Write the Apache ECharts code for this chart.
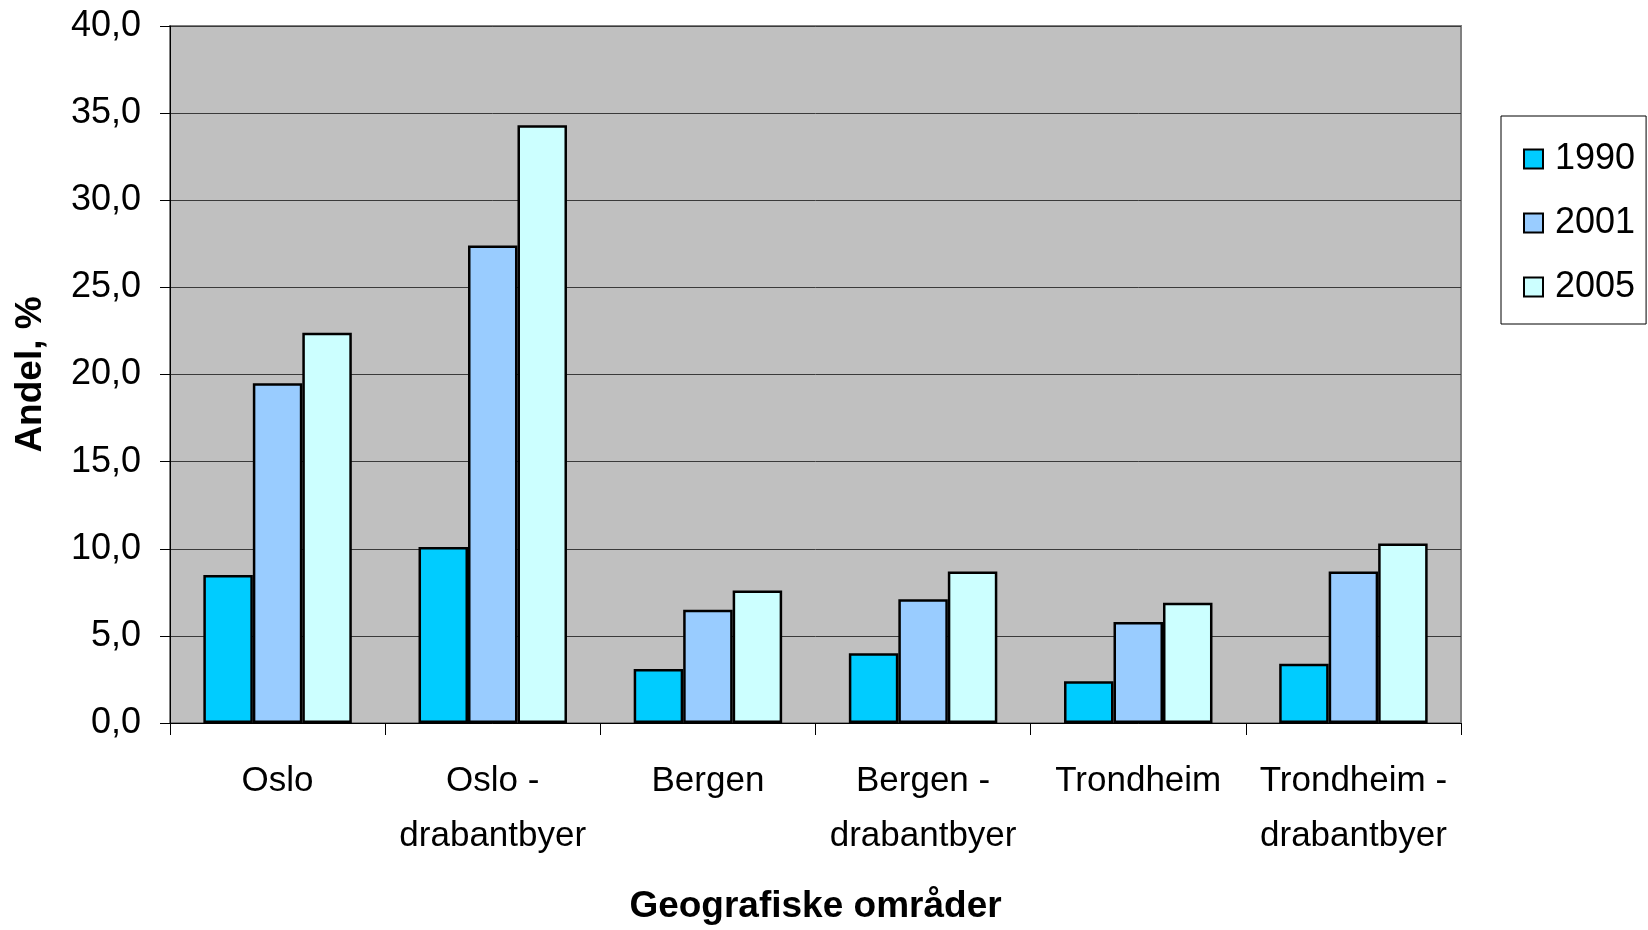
<!DOCTYPE html>
<html>
<head>
<meta charset="utf-8">
<script src="https://cdn.jsdelivr.net/npm/echarts@6/dist/echarts.min.js"></script>
<style>
  html, body { margin: 0; padding: 0; background: #fff; }
  #main { width: 1648px; height: 930px; }
</style>
</head>
<body>
<div id="main"></div>
<script>
// areas along the x axis
var omrader = ['Oslo', 'Oslo -\ndrabantbyer', 'Bergen', 'Bergen -\ndrabantbyer', 'Trondheim', 'Trondheim -\ndrabantbyer'];
// share in percent
var andel1990 = [8.5, 10.1, 3.1, 4.0, 2.4, 3.4];
var andel2001 = [19.5, 27.4, 6.5, 7.1, 5.8, 8.7];
var andel2005 = [22.4, 34.3, 7.6, 8.7, 6.9, 10.3];
var years = ['1990', '2001', '2005'];
var colors = ['#00CCFF', '#99CCFF', '#CCFFFF'];

var font = 'Liberation Sans, Arial, sans-serif';
var chart = echarts.init(document.getElementById('main'));

function bar(name, data, color) {
  return {
    name: name,
    type: 'bar',
    data: data,
    barGap: '0%',
    barCategoryGap: '31%',
    itemStyle: { color: color, borderColor: '#000', borderWidth: 2.5 }
  };
}

chart.setOption({
  animation: false,
  textStyle: { fontFamily: font },
  grid: {
    left: 170, right: 187, top: 26, bottom: 207,
    show: true,
    backgroundColor: '#C0C0C0',
    borderColor: '#808080',
    borderWidth: 2
  },
  legend: {
    orient: 'vertical',
    left: 1501,
    top: 116,
    padding: [25, 11, 19, 22],
    itemGap: 28,
    itemWidth: 19,
    itemHeight: 19,
    icon: 'rect',
    borderColor: '#000',
    borderWidth: 1,
    itemStyle: { borderColor: '#000', borderWidth: 2 },
    textStyle: { fontFamily: font, fontSize: 36, color: '#000', padding: [0, 0, 0, 7] },
    data: years
  },
  xAxis: {
    type: 'category',
    data: omrader,
    name: 'Geografiske områder',
    nameLocation: 'middle',
    nameGap: 165,
    nameTextStyle: { fontFamily: font, fontSize: 37, fontWeight: 'bold', color: '#000' },
    axisLine: { lineStyle: { color: '#000', width: 1 } },
    axisTick: { show: true, length: 12, lineStyle: { color: '#000' } },
    axisLabel: { fontFamily: font, fontSize: 35, color: '#000', margin: 31, lineHeight: 55, interval: 0 }
  },
  yAxis: {
    type: 'value',
    min: 0,
    max: 40,
    interval: 5,
    name: 'Andel, %',
    nameLocation: 'middle',
    nameGap: 121,
    nameTextStyle: { fontFamily: font, fontSize: 37, fontWeight: 'bold', color: '#000' },
    axisLine: { show: true, lineStyle: { color: '#000', width: 1 } },
    axisTick: { show: true, length: 10, lineStyle: { color: '#000' } },
    axisLabel: {
      fontFamily: font, fontSize: 36, color: '#000', margin: 29,
      formatter: function (v) { return v.toFixed(1).replace('.', ','); }
    },
    splitLine: { lineStyle: { color: '#3a3a3a', width: 1 } }
  },
  series: [
    bar(years[0], andel1990, colors[0]),
    bar(years[1], andel2001, colors[1]),
    bar(years[2], andel2005, colors[2])
  ]
});
</script>
</body>
</html>
